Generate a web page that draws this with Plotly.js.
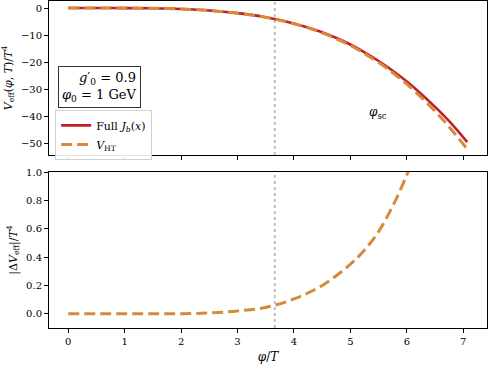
<!DOCTYPE html>
<html>
<head>
<meta charset="utf-8">
<script src="https://cdn.plot.ly/plotly-3.0.1.min.js"></script>
<style>
  body { margin: 0; background: #fff; }
  #chart { width: 488px; height: 365px; }
</style>
</head>
<body>
<div id="chart"></div>
<script>
// phi/T sample points
const phiT = [0, 0.5, 1, 1.5, 2, 2.5, 3, 3.5, 4, 4.5, 5, 5.25, 5.5, 5.75, 6, 6.25, 6.5, 6.75, 7.07];

// V_eff / T^4, full thermal function
const vFull = [0, 0, -0.02, -0.1, -0.35, -0.9, -1.9, -3.4, -5.7, -9.0, -13.5, -16.4, -19.6, -23.2, -27.2, -31.7, -36.6, -41.9, -49.6];
// V_eff / T^4, high-temperature expansion
const vHT = [0, 0, -0.02, -0.1, -0.35, -0.9, -1.92, -3.45, -5.8, -9.2, -13.85, -16.85, -20.2, -23.95, -28.2, -32.95, -38.2, -44.0, -52.2];
// |Delta V_eff| / T^4
const deltaV = [0, 0, 0, 0, 0.001, 0.006, 0.02, 0.045, 0.105, 0.2, 0.35, 0.45, 0.58, 0.76, 0.98, 1.25, 1.6, 2.1, 2.6];

const phiSc = 3.66;

const serif = "DejaVu Serif";
const red = "#bf2026";
const orange = "#d88a3c";

const traces = [
  {
    x: phiT, y: vFull, type: "scatter", mode: "lines",
    name: "Full <i>J</i><sub><i>b</i></sub>(<i>x</i>)",
    line: { color: red, width: 2.6, shape: "spline" },
    xaxis: "x", yaxis: "y"
  },
  {
    x: phiT, y: vHT, type: "scatter", mode: "lines",
    name: "<i>V</i><sub>HT</sub>",
    line: { color: orange, width: 3, dash: "11px,5px", shape: "spline" },
    xaxis: "x", yaxis: "y"
  },
  {
    x: phiT, y: deltaV, type: "scatter", mode: "lines",
    showlegend: false,
    line: { color: orange, width: 3, dash: "11px,5px", shape: "spline" },
    xaxis: "x2", yaxis: "y2"
  }
];

const axisBase = {
  showline: true, mirror: true, linecolor: "#000", linewidth: 1,
  ticks: "outside", ticklen: 4, tickcolor: "#000",
  showgrid: false, zeroline: false,
  tickfont: { family: serif, size: 10, color: "#000" }
};

const layout = {
  width: 488, height: 365,
  margin: { l: 49, r: 1, t: 1, b: 37 },
  paper_bgcolor: "#fff", plot_bgcolor: "#fff",
  font: { family: serif, color: "#000" },
  showlegend: true,
  legend: {
    x: 0.014, y: 0.667, xanchor: "left", yanchor: "top",
    bgcolor: "rgba(255,255,255,0.9)", bordercolor: "#d0d0d0", borderwidth: 1,
    font: { family: serif, size: 11, color: "#000" },
    itemwidth: 30, tracegroupgap: 2
  },
  xaxis: Object.assign({}, axisBase, {
    anchor: "y", range: [-0.34, 7.42], dtick: 1, showticklabels: false
  }),
  yaxis: Object.assign({}, axisBase, {
    domain: [0.529, 1], range: [-54.4, 2.6], dtick: 10,
    title: { text: "<i>V</i><sub>eff</sub>(<i>φ</i>, <i>T</i>)/<i>T</i><sup>4</sup>", font: { family: serif, size: 11 }, standoff: 6 }
  }),
  xaxis2: Object.assign({}, axisBase, {
    anchor: "y2", range: [-0.34, 7.42], dtick: 1,
    title: { text: "<i>φ</i>/<i>T</i>", font: { family: serif, size: 12 }, standoff: 6 }
  }),
  yaxis2: Object.assign({}, axisBase, {
    domain: [0, 0.477], range: [-0.1, 1.0], dtick: 0.2, tickformat: ".1f",
    title: { text: "|Δ<i>V</i><sub>eff</sub>|/<i>T</i><sup>4</sup>", font: { family: serif, size: 11 }, standoff: 6 }
  }),
  shapes: [
    { type: "line", xref: "x", yref: "y domain", x0: phiSc, x1: phiSc, y0: 0, y1: 1,
      line: { color: "#c0c0c0", width: 2, dash: "dot" }, layer: "below" },
    { type: "line", xref: "x2", yref: "y2 domain", x0: phiSc, x1: phiSc, y0: 0, y1: 1,
      line: { color: "#c0c0c0", width: 2, dash: "dot" }, layer: "below" }
  ],
  annotations: [
    {
      xref: "x", yref: "y", x: 0.55, y: -29.4, showarrow: false,
      text: "<i>g</i>′<sub>0</sub> = 0.9<br><i>φ</i><sub>0</sub> = 1 GeV",
      align: "right", font: { family: serif, size: 13, color: "#000" },
      bordercolor: "#333", borderwidth: 1, borderpad: 3, bgcolor: "#fff"
    },
    {
      xref: "x", yref: "y", x: 5.49, y: -38.9, showarrow: false,
      text: "<i>φ</i><sub>sc</sub>",
      font: { family: serif, size: 12, color: "#000" }
    }
  ]
};

Plotly.newPlot("chart", traces, layout, { displayModeBar: false });
</script>
</body>
</html>
